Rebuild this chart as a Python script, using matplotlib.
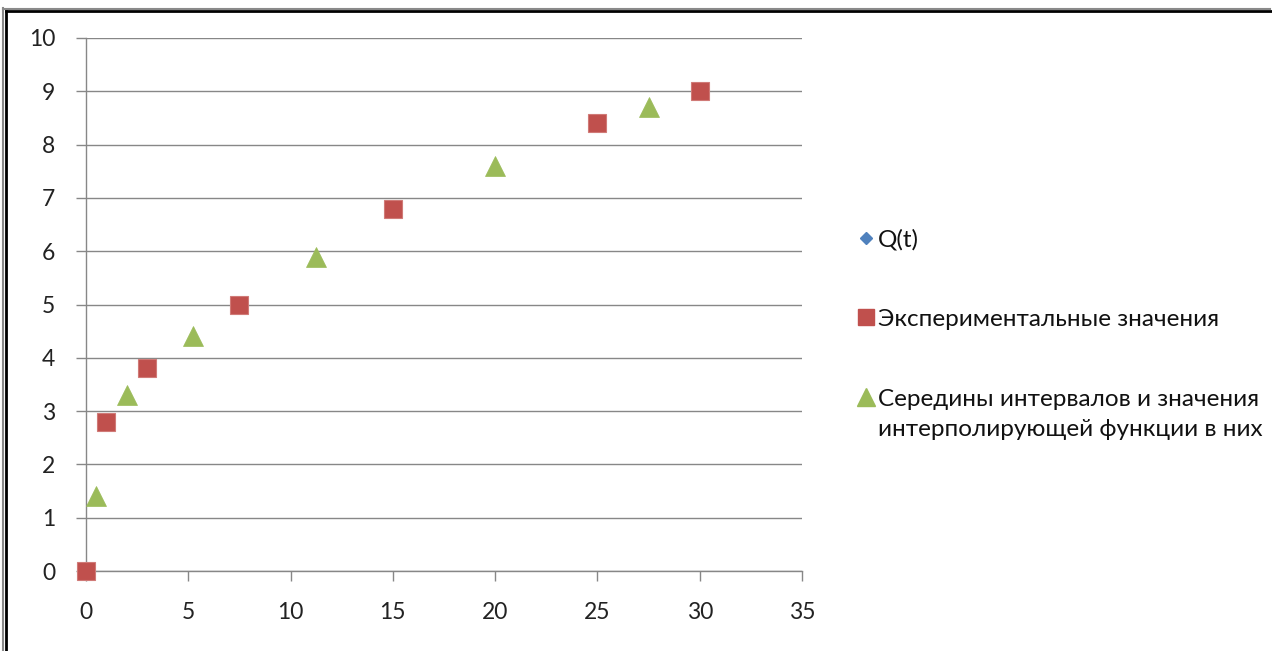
import matplotlib
matplotlib.use("Agg")
import matplotlib.pyplot as plt
from matplotlib.lines import Line2D

# data
t_exp = [0, 1, 3, 7.5, 15, 25, 30]
q_exp = [0, 2.8, 3.8, 5.0, 6.8, 8.4, 9.0]
t_mid = [0.5, 2, 5.25, 11.25, 20, 27.5]
q_mid = [1.4, 3.3, 4.4, 5.9, 7.6, 8.7]
x_ticks = [0, 5, 10, 15, 20, 25, 30, 35]
y_ticks = list(range(0, 11))
labels = ["Q(t)", "Экспериментальные значения",
          "Середины интервалов и значения\nинтерполирующей функции в них"]

BLUE = "#4F81BD"
RED = "#C0504D"
GREEN = "#9BBB59"
GRID = "#878787"

plt.rcParams["font.family"] = ["Lato", "DejaVu Sans"]

W, H = 1272, 651
fig = plt.figure(figsize=(W / 100, H / 100), dpi=100)
ax = fig.add_axes([86 / W, 1 - 571 / H, (802 - 86) / W, (571 - 38) / H])

ax.set_xlim(0, 35)
ax.set_ylim(0, 10)
ax.set_xticks(x_ticks)
ax.set_yticks(y_ticks)
ax.yaxis.grid(True, color=GRID, linewidth=1.0)
ax.set_axisbelow(True)
for side in ("top", "right"):
    ax.spines[side].set_visible(False)
for side in ("left", "bottom"):
    ax.spines[side].set_color(GRID)
    ax.spines[side].set_linewidth(1.0)
ax.tick_params(axis="x", direction="out", length=7, width=1, color=GRID,
               labelsize=16.5, pad=15, labelcolor="#222222")
ax.tick_params(axis="y", direction="out", length=7, width=1, color=GRID,
               labelsize=16.5, pad=15, labelcolor="#222222")

ax.plot(t_exp, q_exp, linestyle="none", marker="D", markersize=6,
        color=BLUE, zorder=3, clip_on=False)
ax.plot(t_exp, q_exp, linestyle="none", marker="s", markersize=13.5,
        markerfacecolor=RED, markeredgecolor="#D07A77", markeredgewidth=0.8,
        zorder=4, clip_on=False)
ax.plot(t_mid, q_mid, linestyle="none", marker="^", markersize=15,
        markerfacecolor=GREEN, markeredgecolor=GREEN, markeredgewidth=0.5,
        zorder=4, clip_on=False)

# legend drawn in figure pixels
def fy(py):
    return 1 - py / H

legend_items = [
    (238, "D", BLUE, 6),
    (317, "s", RED, 12),
    (397, "^", GREEN, 13),
]
line_offsets = [0, 31]
for (py, mk, col, ms), lab in zip(legend_items, labels):
    fig.add_artist(Line2D([866 / W], [fy(py)], marker=mk, markersize=ms,
                          color=col, linestyle="none",
                          transform=fig.transFigure))
    for off, line in zip(line_offsets, lab.split("\n")):
        fig.text(878 / W, fy(py + off), line, fontsize=17.5, color="#111111",
                 ha="left", va="center_baseline")

# frame around the chart
fig.add_artist(Line2D([6 / W, 6 / W], [0, fy(10.5)], color="#000000",
                      linewidth=2, transform=fig.transFigure))
fig.add_artist(Line2D([6 / W, 1], [fy(10.5), fy(10.5)], color="#000000",
                      linewidth=2, transform=fig.transFigure))
fig.add_artist(Line2D([3.5 / W, 3.5 / W], [0, fy(8)], color="#8a8a8a",
                      linewidth=1.5, transform=fig.transFigure))
fig.add_artist(Line2D([3.5 / W, 1270 / W], [fy(8.5), fy(8.5)], color="#8a8a8a",
                      linewidth=1.5, transform=fig.transFigure))

fig.savefig("out.png", dpi=100)
